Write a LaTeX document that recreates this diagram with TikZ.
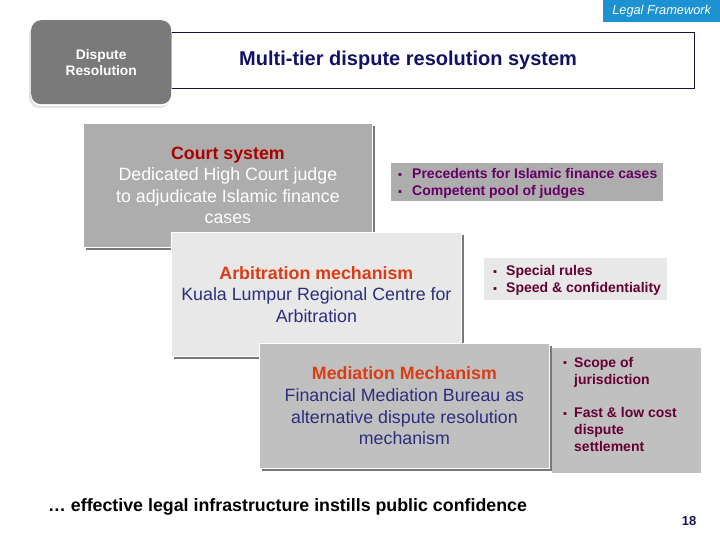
\documentclass[tikz,border=0pt]{standalone}
\usepackage{fontspec}
\setmainfont{Liberation Sans}
\usetikzlibrary{shadows}
\definecolor{tabblue}{RGB}{28,146,210}
\definecolor{dispgray}{RGB}{122,122,122}
\definecolor{titlenavy}{RGB}{18,18,100}
\definecolor{frameline}{RGB}{20,20,60}
\definecolor{courtfill}{RGB}{173,173,173}
\definecolor{arbfill}{RGB}{232,232,232}
\definecolor{medfill}{RGB}{192,192,192}
\definecolor{shadowgray}{RGB}{120,120,120}
\definecolor{courtred}{RGB}{170,0,0}
\definecolor{headorange}{RGB}{220,60,20}
\definecolor{bodynavy}{RGB}{45,45,125}
\definecolor{bulpurple}{RGB}{102,0,102}
\definecolor{bulmaroon}{RGB}{100,0,50}
\definecolor{pagenavy}{RGB}{20,20,100}
\newcommand{\bsq}[1]{\makebox[#1][l]{\raisebox{0.5pt}{\scalebox{0.8}{▪}}}}
\begin{document}
\begin{tikzpicture}[x=1pt,y=-1pt,
  panel/.style={draw=white, line width=0.8pt, anchor=north west, inner sep=0pt, align=center,
    drop shadow={shadow xshift=2.5pt, shadow yshift=-2.5pt, fill=shadowgray, opacity=1}},
  bulbox/.style={anchor=north west, inner sep=0pt},
  bultext/.style={anchor=west, inner sep=0pt, font=\bfseries\fontsize{14}{17}\selectfont},
  boxtext/.style={font=\fontsize{17.8}{21.6}\selectfont}
]
\useasboundingbox (0,0) rectangle (720,540);
% tab
\node[fill=tabblue, minimum width=117pt, minimum height=22pt, anchor=north west, inner sep=0pt,
  text=white, font=\itshape\fontsize{12.8}{14}\selectfont] (tab) at (603,0) {Legal Framework};
% title frame
\node[draw=frameline, line width=0.8pt, minimum width=523pt, minimum height=56pt, anchor=north west, inner sep=0pt] (title) at (171,32) {};
\draw[gray!60, line width=1pt] (title.north west) -- (title.south west);
\node[anchor=west, inner sep=0pt, text=titlenavy, font=\bfseries\fontsize{20}{22}\selectfont] (titletext) at (239,60) {Multi-tier dispute resolution system};
% dispute box
\fill[gray!22, rounded corners=10pt] (29,24) rectangle (170,108);
\fill[white, rounded corners=10pt] (31,22) rectangle (171,106);
\node[fill=dispgray, rounded corners=10pt, minimum width=140pt, minimum height=84pt, anchor=north west, inner sep=0pt,
  text=white, align=center, font=\bfseries\fontsize{13.8}{16}\selectfont] (disp) at (31,20) {Dispute\\Resolution};
% court
\node[panel, fill=courtfill, minimum width=289pt, minimum height=124pt, text=white, boxtext] (court) at (83,123)
  {{\bfseries\color{courtred}Court system}\\Dedicated High Court judge\\to adjudicate Islamic finance\\cases};
\node[bulbox, fill=courtfill, minimum width=272pt, minimum height=38pt] (b1) at (391,163) {};
\node[bultext, text=bulpurple] (b1t) at (398,184) {\begin{tabular}{@{}l@{}}\bsq{14pt}Precedents for Islamic finance cases\\ \bsq{14pt}Competent pool of judges\end{tabular}};
% arbitration
\node[panel, fill=arbfill, minimum width=290pt, minimum height=124pt, text=bodynavy, boxtext] (arb) at (171,232)
  {{\bfseries\color{headorange}Arbitration mechanism}\\Kuala Lumpur Regional Centre for\\Arbitration};
\node[bulbox, fill=arbfill, minimum width=183pt, minimum height=42pt] (b2) at (484,258) {};
\node[bultext, text=bulmaroon] (b2t) at (493,281) {\begin{tabular}{@{}l@{}}\bsq{13pt}Special rules\\ \bsq{13pt}Speed \& confidentiality\end{tabular}};
% mediation
\node[panel, fill=medfill, minimum width=290pt, minimum height=125pt, text=bodynavy, boxtext] (med) at (259,343)
  {{\bfseries\color{headorange}Mediation Mechanism}\\Financial Mediation Bureau as\\alternative dispute resolution\\mechanism};
\node[bulbox, fill=medfill, minimum width=149pt, minimum height=125pt] (b3) at (552,348) {};
\node[bultext, text=bulmaroon, font=\bfseries\fontsize{14}{16.8}\selectfont] (b3t) at (563,406) {\begin{tabular}{@{}l@{}}\bsq{11pt}Scope of\\ \hspace{11pt}jurisdiction\\[16.8pt] \bsq{11pt}Fast \& low cost\\ \hspace{11pt}dispute\\ \hspace{11pt}settlement\end{tabular}};
% footer
\node[anchor=west, inner sep=0pt, font=\bfseries\fontsize{17.8}{20}\selectfont] (foot) at (48,507) {… effective legal infrastructure instills public confidence};
\node[inner sep=0pt, text=pagenavy, font=\bfseries\fontsize{13}{15}\selectfont] (page) at (689,521) {18};
\end{tikzpicture}
\end{document}
